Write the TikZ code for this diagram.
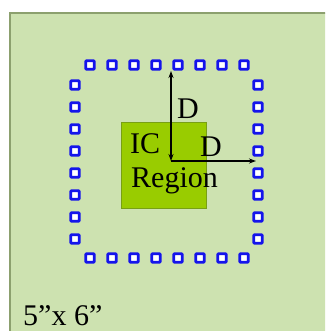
\documentclass[tikz,border=0pt]{standalone}
\usepackage{fontspec}
\setmainfont{Liberation Serif}
\usetikzlibrary{arrows.meta}
\definecolor{bgfill}{RGB}{205,226,176}
\definecolor{bgline}{RGB}{140,160,110}
\definecolor{icfill}{RGB}{153,204,0}
\definecolor{icline}{RGB}{120,160,20}
\definecolor{padblue}{RGB}{20,20,235}
\tikzset{
  pad/.style={draw=padblue, line width=2.6pt, fill=white, minimum size=8.5pt, inner sep=0pt, rectangle, rounded corners=0.8pt},
  lbl/.style={font=\fontsize{30}{30}\selectfont, inner sep=0pt, anchor=base west},
  dim/.style={line width=1.1pt, draw=black}
}
\begin{document}
\begin{tikzpicture}[x=1pt,y=-1pt]
\useasboundingbox (0,0) rectangle (325,331);
\clip (0,0) rectangle (325,331);
\draw[fill=bgfill, draw=bgline, line width=1.5pt] (10,13) rectangle (340,345);
\node[draw=icline, fill=icfill, line width=1pt, minimum width=85pt, minimum height=85pt, inner sep=0pt] (ic) at (164,165.5) {};
\foreach \i [count=\k] in {90,112,134,156,178,200,222,244} {
  \node[pad] (t\k) at (\i,65) {};
  \node[pad] (b\k) at (\i,258) {};
}
\foreach \j [count=\k] in {85,107,129,151,173,195,217,239} {
  \node[pad] (l\k) at (75,\j) {};
  \node[pad] (r\k) at (258,\j) {};
}
\coordinate (c) at (171,161);
\coordinate (top) at (171,71);
\coordinate (right) at (256,161);
\draw[dim, {Stealth[length=7pt,width=5pt]}-{Stealth[length=7pt,width=5pt]}] (top) -- (c);
\draw[dim, -{Stealth[length=7pt,width=5pt]}] (c) -- (right);
\node[lbl] (d1) at (177,118) {D};
\node[lbl] (d2) at (200,156) {D};
\node[lbl] (icl) at (130,153) {IC};
\node[lbl] (reg) at (131,187) {Region};
\node[lbl] (size) at (23,325) {5”x 6”};
\end{tikzpicture}
\end{document}
